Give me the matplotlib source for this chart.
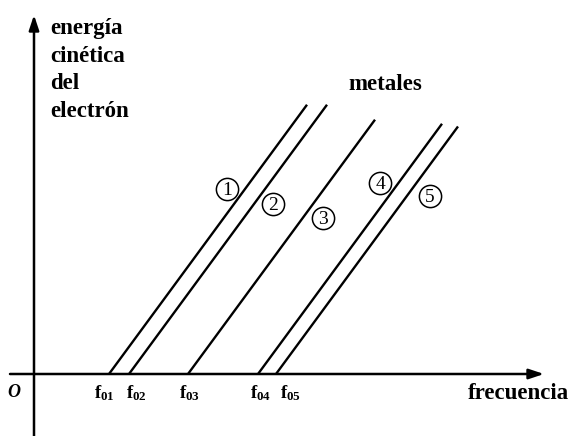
import matplotlib.pyplot as plt

plt.rcParams["font.family"] = ["Liberation Serif", "DejaVu Serif"]
plt.rcParams["mathtext.fontset"] = "custom"
plt.rcParams["mathtext.rm"] = "Liberation Serif:bold"
plt.rcParams["mathtext.default"] = "regular"

# Photoelectric effect: kinetic energy vs. frequency for five metals
metals = ["1", "2", "3", "4", "5"]
threshold_labels = [r"f$_{01}$", r"f$_{02}$", r"f$_{03}$", r"f$_{04}$", r"f$_{05}$"]
threshold_freq = [7.5, 9.5, 15.4, 22.4, 24.2]
max_freq = [27.3, 29.3, 34.1, 40.8, 42.4]
planck_slope = 1.36

fig = plt.figure(figsize=(5.74, 4.36), dpi=100)
ax = fig.add_axes([0, 0, 1, 1])
ax.set_xlim(-3.4, 54.0)
ax.set_ylim(-6.2, 37.4)
ax.axis("off")

# axes with arrow heads
arrow = dict(arrowstyle="-|>,head_length=0.9,head_width=0.3", lw=1.8, color="black",
             shrinkA=0, shrinkB=0)
ax.annotate("", xy=(51.0, 0), xytext=(-2.4, 0), arrowprops=arrow)
ax.annotate("", xy=(0, 35.9), xytext=(0, -6.2), arrowprops=arrow)

# one straight line per metal, all with the same slope
for f0, fmax in zip(threshold_freq, max_freq):
    ax.plot([f0, fmax], [0, planck_slope * (fmax - f0)], color="black", lw=1.7,
            solid_capstyle="butt")

# circled metal numbers next to their lines
label_pos = [(19.3, 18.5), (23.9, 17.0), (28.9, 15.6), (34.6, 19.1), (39.6, 17.8)]
for name, (x, y) in zip(metals, label_pos):
    ax.plot(x, y, marker="o", ms=16, mfc="white", mec="black", mew=1.1)
    ax.text(x, y - 0.1, name, ha="center", va="center", fontsize=14)

# threshold frequency labels under the axis
nudges = [-0.5, 0.7, 0.2, 0.3, 1.5]
for lab, f0, dx in zip(threshold_labels, threshold_freq, nudges):
    ax.text(f0 + dx, -1.9, lab, ha="center", va="center", fontsize=13.5,
            fontweight="bold")

bold = dict(fontweight="bold", fontsize=16.5)
ax.text(1.6, 35.6, "energía\ncinética\ndel\nelectrón", ha="left", va="top",
        linespacing=1.42, **bold)
ax.text(35.1, 29.0, "metales", ha="center", va="center", **bold)
ax.text(48.4, -1.9, "frecuencia", ha="center", va="center", **bold)
ax.text(-2.0, -1.8, "O", ha="center", va="center", fontsize=13,
        fontweight="bold", style="italic")

fig.savefig("out.png", dpi=100)
